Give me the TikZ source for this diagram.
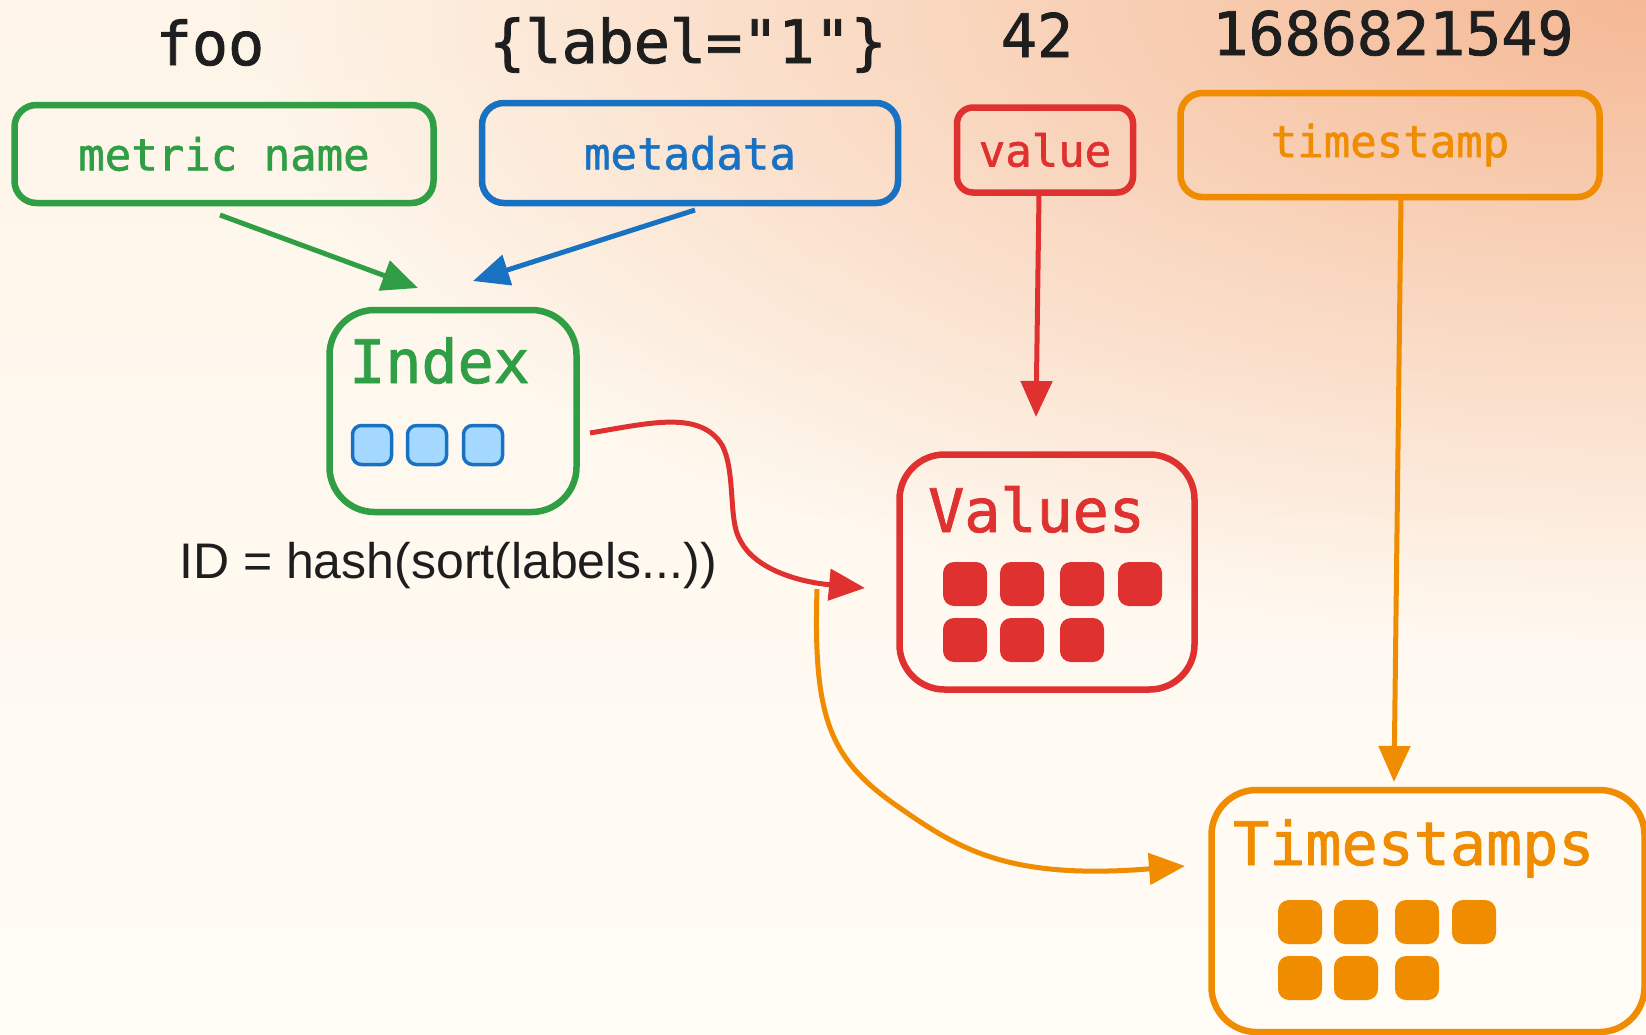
\documentclass[tikz,border=0pt]{standalone}
\usepackage{fontspec}
\setmonofont[FakeBold=1.4]{DejaVu Sans Mono}
\setsansfont{Liberation Sans}
\usetikzlibrary{arrows.meta,fadings,calc}
\definecolor{cgreen}{HTML}{2F9E44}
\definecolor{cblue}{HTML}{1971C2}
\definecolor{cred}{HTML}{E03131}
\definecolor{corange}{HTML}{F08C00}
\definecolor{clblue}{HTML}{A5D8FF}
\definecolor{cink}{HTML}{1E1E1E}
\definecolor{bgtop}{HTML}{FEF5E8}
\definecolor{bgbot}{HTML}{FFFCF6}
\definecolor{peach}{HTML}{F5B996}
\tikzfading[name=glowfade, inner color=transparent!0, outer color=transparent!100]
\begin{document}
\begin{tikzpicture}[x=1pt,y=-1pt,
  box/.style={draw, line width=6.5pt, rounded corners=22pt, inner sep=0pt,
    font=\ttfamily\fontsize{44}{50}\selectfont},
  cont/.style={draw, line width=6.5pt, rounded corners=45pt, inner sep=0pt},
  title/.style={anchor=base west, inner sep=0pt, font=\ttfamily\fontsize{60}{70}\selectfont},
  toplab/.style={anchor=base, inner sep=0pt, text=cink, font=\ttfamily\fontsize{60}{70}\selectfont},
  isq/.style={draw=cblue, fill=clblue, line width=3.5pt, rounded corners=9pt, minimum size=39pt, inner sep=0pt},
  vsq/.style={fill=#1, rounded corners=11pt, minimum size=44pt, inner sep=0pt},
  arr/.style={line width=5pt, -{Triangle[length=36pt,width=31pt]}},
]
\useasboundingbox (0,0) rectangle (1646,1034);
% background
\begin{scope}
\clip (0,0) rectangle (1646,1034);
\shade[top color=bgtop, bottom color=bgbot] (0,0) rectangle (1646,1034);
\fill[peach, path fading=glowfade] (1646,0) ellipse [x radius=1400pt, y radius=640pt];
\end{scope}

% top labels
\node[toplab] (foo) at (210,65) {foo};
\node[toplab] (lbl) at (688,63) {\{label="1"\}};
\node[toplab] (n42) at (1037,57) {42};
\node[toplab] (nts) at (1393,55) {1686821549};

% top boxes
\node[box, draw=cgreen, text=cgreen, minimum width=419pt, minimum height=98pt] (mn) at (224,154) {metric name};
\node[box, draw=cblue, text=cblue, minimum width=416pt, minimum height=100pt] (md) at (690,153) {metadata};
\node[box, draw=cred, text=cred, minimum width=176pt, minimum height=85pt, rounded corners=16pt] (val) at (1045,150) {value};
\node[box, draw=corange, text=corange, minimum width=419pt, minimum height=104pt] (tsb) at (1390,145) {timestamp};

% Index
\node[cont, draw=cgreen, minimum width=247pt, minimum height=202pt] (idx) at (453,411) {};
\node[title, text=cgreen] (idxt) at (349,383) {Index};
\node[isq] (i1) at (372,445) {};
\node[isq] (i2) at (427,445) {};
\node[isq] (i3) at (483,445) {};
\node[anchor=base west, inner sep=0pt, text=cink, font=\sffamily\fontsize{50}{58}\selectfont] (idtxt) at (179,578) {ID = hash(sort(labels...))};

% Values
\node[cont, draw=cred, minimum width=295pt, minimum height=235pt] (vals) at (1047,572) {};
\node[title, text=cred] (valst) at (928,532) {Values};
\foreach \x/\y [count=\k] in {965/584,1022/584,1082/584,1140/584,965/640,1022/640,1082/640}
  \node[vsq=cred] (v\k) at (\x,\y) {};

% Timestamps
\node[cont, draw=corange, minimum width=433pt, minimum height=242pt] (tss) at (1428,911) {};
\node[title, text=corange] (tsst) at (1233,865) {Timestamps};
\foreach \x/\y [count=\k] in {1300/922,1356/922,1417/922,1474/922,1300/978,1356/978,1417/978}
  \node[vsq=corange] (t\k) at (\x,\y) {};

% connector ends
\coordinate (g0) at (220,215);
\coordinate (g1) at (418,288);
\coordinate (b0) at (695,210);
\coordinate (b1) at (473,281);
\coordinate (r0) at (1039,194);
\coordinate (r1) at (1036,417);
\coordinate (o0) at (1401,197);
\coordinate (o1) at (1394,782);
\coordinate (c0) at (590,433);
\coordinate (c1) at (865,588);
\coordinate (d0) at (817,589);
\coordinate (d1) at (1185,866);

\draw[arr, cgreen] (g0) -- (g1);
\draw[arr, cblue] (b0) -- (b1);
\draw[arr, cred] (r0) -- (r1);
\draw[arr, corange] (o0) -- (o1);
\draw[arr, cred] (c0) .. controls (650,423) and (700,410) .. (722,445)
  .. controls (736,472) and (728,520) .. (740,540)
  .. controls (755,570) and (800,582) .. (c1);
\draw[arr, corange] (d0) .. controls (813,720) and (830,760) .. (900,808)
  .. controls (960,850) and (1010,880) .. (d1);
\end{tikzpicture}
\end{document}
